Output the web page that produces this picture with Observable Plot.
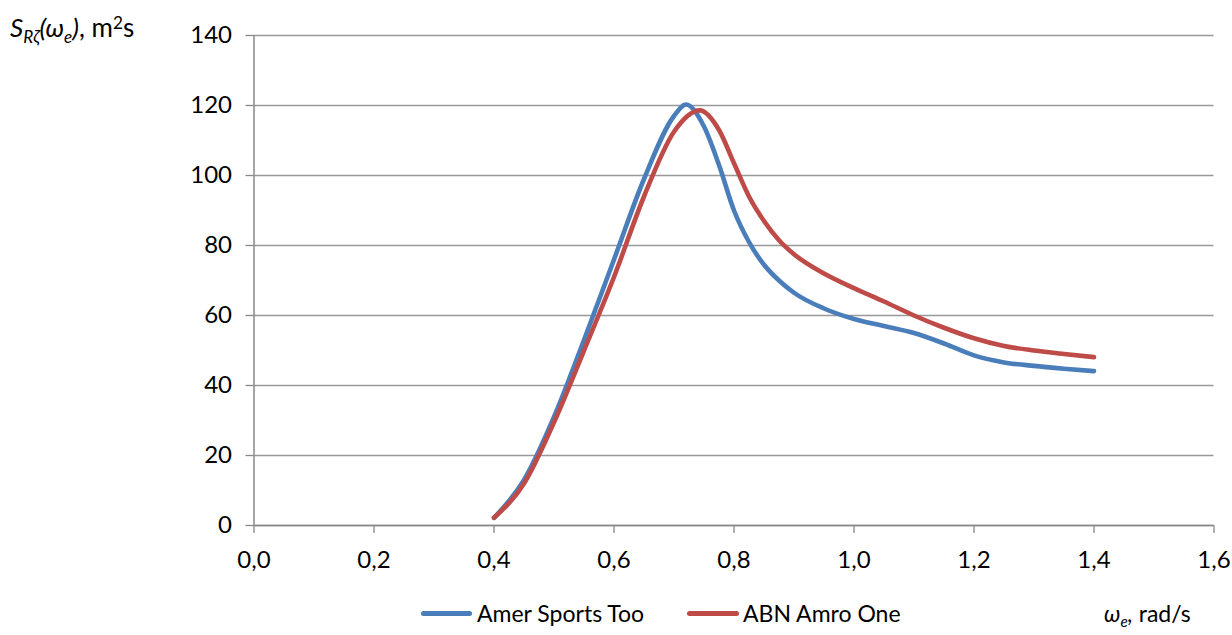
<!DOCTYPE html>
<html>
<head>
<meta charset="utf-8">
<script src="https://cdn.jsdelivr.net/npm/d3@7"></script>
<script src="https://cdn.jsdelivr.net/npm/@observablehq/plot@0.6"></script>
<style>
  html, body { margin: 0; padding: 0; background: #fff; }
  #wrap { position: relative; width: 1232px; height: 635px; font-family: Lato, "Open Sans", sans-serif; font-size: 23px; color: #000; }
  .abs { position: absolute; white-space: nowrap; line-height: 22px; }
  .sub { position: relative; top: 0.35em; font-size: 0.66em; }
  .sup { position: relative; top: -0.45em; font-size: 0.66em; }
  .sw { position: absolute; height: 5px; border-radius: 2.5px; }
</style>
</head>
<body>
<div id="wrap"></div>
<script>
// ---- data ----
const xTicks = [0, 0.2, 0.4, 0.6, 0.8, 1.0, 1.2, 1.4, 1.6];
const yTicks = [0, 20, 40, 60, 80, 100, 120, 140];

const seriesNames = ["Amer Sports Too", "ABN Amro One"];
const seriesColors = ["#4a7ebb", "#be4b48"];

const omegaBlue = [0.40, 0.45, 0.50, 0.55, 0.60, 0.65, 0.70, 0.72, 0.75, 0.775, 0.80, 0.825, 0.85, 0.875, 0.90, 0.95, 1.00, 1.05, 1.10, 1.15, 1.20, 1.25, 1.30, 1.35, 1.40];
const sBlue     = [2.2,  13,   31,   53,   76,   99,   117,  120.3, 114, 103,   90,   81,    74.5, 70,    66.5, 62,   59,   57,   55,   52,   48.6, 46.6, 45.6, 44.8, 44.1];

const omegaRed  = [0.40, 0.45, 0.50, 0.55, 0.60, 0.65, 0.70, 0.743, 0.775, 0.80, 0.825, 0.85, 0.875, 0.90, 0.95, 1.00, 1.05, 1.10, 1.15, 1.20, 1.25, 1.30, 1.35, 1.40];
const sRed      = [2.2,  12,   29.5, 50,   71,   94,   112.5, 118.6, 113,  103.5, 94,   87,   81.5,  77.5, 72,   67.8, 64,   60,   56.5, 53.5, 51.3, 50,   49,   48.1];

const blue = omegaBlue.map((x, i) => ({x, y: sBlue[i]}));
const red  = omegaRed.map((x, i) => ({x, y: sRed[i]}));

const fmt = d => d.toFixed(1).replace(".", ",");

const chart = Plot.plot({
  width: 1232,
  height: 590,
  marginLeft: 253.5,
  marginRight: 18.5,
  marginTop: 35,
  marginBottom: 65,
  x: {domain: [0, 1.6]},
  y: {domain: [0, 140]},
  style: {fontFamily: "Lato, 'Open Sans', sans-serif", fontSize: "24px", color: "#000", background: "#fff", overflow: "visible"},
  marks: [
    Plot.gridY(yTicks, {stroke: "#999", strokeOpacity: 1, strokeWidth: 1.3}),
    Plot.axisY(yTicks, {tickSize: 8, tickPadding: 14, stroke: "#888", strokeWidth: 1.3, fill: "#000", label: null, tickFormat: d => d}),
    Plot.axisX(xTicks, {tickSize: 8, tickPadding: 17, stroke: "#888", strokeWidth: 1.3, fill: "#000", label: null, tickFormat: fmt}),
    Plot.ruleX([0], {stroke: "#888", strokeWidth: 1.5}),
    Plot.ruleY([0], {stroke: "#888", strokeWidth: 1.5}),
    Plot.line(blue, {x: "x", y: "y", stroke: seriesColors[0], strokeWidth: 4.6, curve: "monotone-x", strokeLinecap: "round"}),
    Plot.line(red,  {x: "x", y: "y", stroke: seriesColors[1], strokeWidth: 4.6, curve: "monotone-x", strokeLinecap: "round"})
  ]
});

const wrap = document.getElementById("wrap");
wrap.appendChild(chart);

function addDiv(html, left, top, cls = "abs") {
  const d = document.createElement("div");
  d.className = cls;
  d.innerHTML = html;
  d.style.left = left + "px";
  d.style.top = top + "px";
  wrap.appendChild(d);
  return d;
}

// y-axis title
const yl = addDiv('<i>S<span class="sub">Rζ</span>(ω<span class="sub">e</span>)</i>, m<span class="sup">2</span>s', 10, 15.5);
yl.style.fontSize = "26px";
// x-axis title
const xl = addDiv('<i>ω<span class="sub">e</span>,</i> rad/s', 1104, 602);
xl.style.fontSize = "23px";

// legend
const sw1 = addDiv('', 421, 610.5, "sw"); sw1.style.width = "51px"; sw1.style.background = seriesColors[0];
addDiv(seriesNames[0], 477, 601.5);
const sw2 = addDiv('', 687, 610.5, "sw"); sw2.style.width = "52px"; sw2.style.background = seriesColors[1];
addDiv(seriesNames[1], 743, 601.5);
</script>
</body>
</html>
